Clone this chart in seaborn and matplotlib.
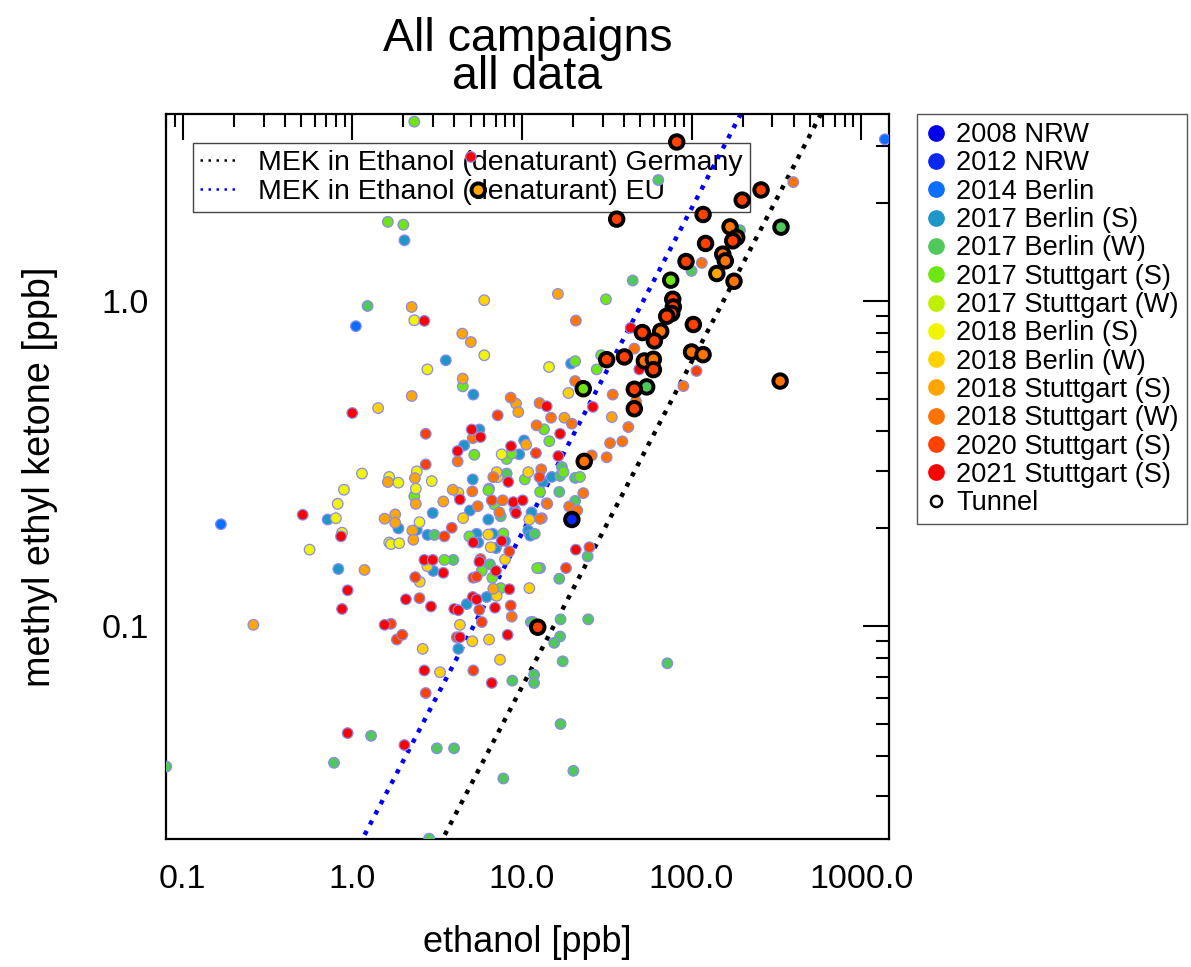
import numpy as np
import pandas as pd
import matplotlib
matplotlib.use("Agg")
import matplotlib.pyplot as plt
import seaborn as sns
from matplotlib.lines import Line2D
from matplotlib.ticker import FixedLocator, NullFormatter, LogLocator

# ---------------- data ----------------
campaigns = ["2008 NRW", "2012 NRW", "2014 Berlin", "2017 Berlin (S)", "2017 Berlin (W)",
             "2017 Stuttgart (S)", "2017 Stuttgart (W)", "2018 Berlin (S)", "2018 Berlin (W)",
             "2018 Stuttgart (S)", "2018 Stuttgart (W)", "2020 Stuttgart (S)", "2021 Stuttgart (S)"]
colors = ["#0000eb", "#0a28f0", "#0a6eff", "#1e96c8", "#50c85a", "#6ee614", "#bef000",
          "#f0f500", "#ffd200", "#ffa500", "#ff7300", "#ff4100", "#ff0000"]

eth_2008_nrw = []
mek_2008_nrw = []
eth_2012_nrw = []
mek_2012_nrw = []
eth_2014_berlin = [0.168, 1.05, 1380]
mek_2014_berlin = [0.206, 0.838, 3.15]
eth_2017_berlin_s = [2.03, 3.56, 5.17, 5.61, 4.56, 5.13, 9.65, 10.3, 13.3, 15.0, 19.5, 0.716, 0.827,
                     1.87, 2.40, 2.78, 2.98, 3.0, 4.22, 4.94, 5.41, 5.53, 6.34, 6.73, 7.95, 7.03,
                     9.1, 11.4, 10.9, 11.2, 6.2, 4.73]
mek_2017_berlin_s = [1.54, 0.658, 0.516, 0.403, 0.36, 0.283, 0.338, 0.373, 0.278, 0.288, 0.643, 0.213,
                     0.150, 0.20, 0.198, 0.191, 0.223, 0.148, 0.0852, 0.227, 0.1925, 0.181, 0.213,
                     0.1925, 0.183, 0.174, 0.228, 0.224, 0.197, 0.19, 0.123, 0.117]
eth_2017_berlin_w = [1.23, 63.7, 193, 100, 45, 17.2, 16.8, 20.6, 16.6, 20.6, 8.13, 24.4, 16.6, 12.8,
                     11.3, 11.6, 16.9, 24.6, 16.8, 15.5, 17.4, 72, 8.78, 11.8, 11.8, 16.9, 20.1,
                     3.94, 3.05, 6.48, 7.5, 11.9, 1.29, 3.15, 3.98, 0.78, 0.08, 7.77, 2.84, 6.4]
mek_2017_berlin_w = [0.967, 2.36, 1.654, 1.24, 1.158, 0.309, 0.29, 0.286, 0.259, 0.243, 0.295, 0.164,
                     0.14, 0.151, 0.103, 0.103, 0.105, 0.105, 0.093, 0.0889, 0.078, 0.0769, 0.068,
                     0.0709, 0.0669, 0.050, 0.0359, 0.160, 0.191, 0.155, 0.218, 0.1925, 0.046,
                     0.0421, 0.0421, 0.038, 0.037, 0.034, 0.0222, 0.265]
eth_2017_stuttgart_s = [2.32, 1.62, 2.0, 31.3, 29.3, 20.6, 27.6, 4.48, 13.5, 14.5, 17.6, 22.0, 12.8,
                        5.24, 8.13, 8.71, 10.4, 12.3, 7.5, 2.32, 4.9, 6.88, 7.77, 5.8, 6.69, 3.49, 6.34]
mek_2017_stuttgart_s = [3.57, 1.755, 1.72, 1.014, 0.682, 0.654, 0.617, 0.547, 0.4035, 0.371, 0.298,
                        0.288, 0.259, 0.337, 0.327, 0.34, 0.283, 0.151, 0.131, 0.251, 0.189, 0.237,
                        0.193, 0.148, 0.141, 0.16, 0.262]
eth_2017_stuttgart_w = []
mek_2017_stuttgart_w = []
eth_2018_berlin_s = [2.32, 2.77, 6.0, 14.45, 1.14, 1.65, 1.87, 2.40, 2.94, 0.893, 2.37, 0.82, 0.80,
                     0.87, 0.56, 2.49, 1.65, 1.69, 1.89, 7.6]
mek_2018_berlin_s = [0.874, 0.617, 0.682, 0.6275, 0.295, 0.288, 0.2765, 0.2995, 0.2796, 0.263, 0.265,
                     0.238, 0.215, 0.194, 0.172, 0.209, 0.181, 0.179, 0.180, 0.338]
eth_2018_berlin_w = [6.0, 1.42, 18.8, 4.22, 7.2, 10.9, 7.1, 11.06, 7.1, 6.4, 5.1, 7.43, 4.31, 2.6,
                     3.29, 2.5, 2.77, 4.5, 6.55, 7.95, 6.34, 11.06]
mek_2018_berlin_w = [1.007, 0.469, 0.522, 0.2575, 0.2876, 0.298, 0.298, 0.131, 0.124, 0.091, 0.0899,
                     0.0789, 0.101, 0.0852, 0.0722, 0.137, 0.153, 0.2151, 0.175, 0.1605, 0.1915, 0.213]
eth_2018_stuttgart_s = [2.24, 4.45, 5.0, 16.3, 2.24, 4.48, 9.23, 9.52, 17.8, 33.9, 10.6, 1.62, 2.34,
                        3.91, 3.44, 1.55, 1.79, 1.79, 2.26, 2.29, 1.18, 0.261, 2.37, 6.78]
mek_2018_stuttgart_s = [0.96, 0.795, 0.749, 1.053, 0.511, 0.578, 0.484, 0.456, 0.438, 0.44, 0.362,
                        0.2777, 0.2856, 0.263, 0.242, 0.2142, 0.2208, 0.2082, 0.197, 0.1845, 0.149,
                        0.101, 0.238, 0.1304]
eth_2018_stuttgart_w = [398, 115, 20.8, 46, 89.5, 20.6, 34.3, 12.7, 14.85, 19.7, 42.4, 47.1, 33.1,
                        39.1, 31.6, 25.8, 23.0, 19.0, 21.2, 14.0, 13.1, 8.59, 12.2, 5.13, 4.18, 13.0,
                        6.78, 5.1, 5.49, 7.7, 7.36, 12.8, 14.1, 8.71, 348]
mek_2018_stuttgart_w = [2.326, 1.312, 0.872, 0.715, 0.548, 0.568, 0.516, 0.486, 0.438, 0.42, 0.41,
                        0.492, 0.366, 0.3705, 0.331, 0.3355, 0.2568, 0.2336, 0.2271, 0.239, 0.215,
                        0.505, 0.415, 0.379, 0.3215, 0.304, 0.2876, 0.26, 0.234, 0.244, 0.224, 0.214,
                        0.238, 0.107, 1.714]
eth_2020_stuttgart_s = [107, 7.2, 2.71, 2.71, 12.1, 12.7, 3.49, 3.86, 6.64, 8.43, 5.7, 5.17, 5.41,
                        18.2, 25.0, 2.35, 2.49, 1.69, 1.83, 1.97, 4.13, 5.17, 2.71, 5.8, 5.61, 8.59]
mek_2020_stuttgart_s = [0.61, 0.4455, 0.391, 0.3147, 0.341, 0.2876, 0.189, 0.2009, 0.244, 0.17, 0.161,
                        0.141, 0.142, 0.151, 0.175, 0.1416, 0.122, 0.1017, 0.091, 0.0941, 0.0925,
                        0.0731, 0.0623, 0.103, 0.1123, 0.1158]
eth_2021_stuttgart_s = [5.0, 2.66, 43.8, 49.2, 26.2, 14.0, 16.8, 16.4, 1.0, 4.18, 5.06, 5.7, 8.63,
                        8.31, 4.31, 0.51, 0.858, 0.939, 0.87, 2.66, 2.98, 3.44, 2.07, 2.91, 3.99, 4.22,
                        1.55, 2.66, 8.9, 9.23, 10.1, 5.17, 7.6, 5.61, 7.03, 5.13, 5.41, 6.94, 8.43,
                        8.24, 6.64, 4.31, 0.939, 2.03, 20.8]
mek_2021_stuttgart_s = [2.78, 0.87, 0.828, 0.617, 0.473, 0.475, 0.391, 0.334, 0.453, 0.346, 0.403,
                        0.382, 0.358, 0.278, 0.2455, 0.2203, 0.189, 0.129, 0.113, 0.16, 0.16, 0.146,
                        0.121, 0.115, 0.113, 0.112, 0.101, 0.0731, 0.241, 0.2228, 0.244, 0.181, 0.183,
                        0.158, 0.148, 0.123, 0.121, 0.114, 0.13, 0.0941, 0.0669, 0.0925, 0.0469,
                        0.0431, 0.172]

tunnel_eth = [19.7, 54.4, 337, 75.4, 23.0, 5.53, 141,
              168.7, 184.7, 152.8, 158.2, 178, 65.8, 100, 117, 333, 52.7, 59.6, 23.3,
              81.8, 36.2, 117, 199, 257, 175, 121, 92.8, 77.5, 78.1, 76.4, 71.4, 102.5, 51.3,
              60.4, 31.6, 40.2, 59.6, 46, 46, 12.4]
tunnel_mek = [0.213, 0.545, 1.69, 1.161, 0.538, 2.197, 1.217,
              1.694, 1.571, 1.396, 1.331, 1.152, 0.808, 0.698, 0.685, 0.568, 0.655, 0.663, 0.3215,
              3.09, 1.789, 1.849, 2.047, 2.2, 1.534, 1.506, 1.325, 1.014, 0.96, 0.917, 0.899,
              0.848, 0.801, 0.755, 0.661, 0.674, 0.616, 0.536, 0.467, 0.0993]
tunnel_campaign = (["2012 NRW"] + ["2017 Berlin (W)"] * 2 + ["2017 Stuttgart (S)"] * 2
                   + ["2018 Stuttgart (S)"] * 2 + ["2018 Stuttgart (W)"] * 12
                   + ["2020 Stuttgart (S)"] * 21)

ratio_germany = 0.0065   # MEK / ethanol, German denaturant
ratio_eu = 0.0193        # MEK / ethanol, EU denaturant
line_labels = ["MEK in Ethanol (denaturant) Germany", "MEK in Ethanol (denaturant) EU"]

x_ticks = [0.1, 1.0, 10.0, 100.0, 1000.0]
x_ticklabels = ["0.1", "1.0", "10.0", "100.0", "1000.0"]
y_ticks = [0.1, 1.0]
y_ticklabels = ["0.1", "1.0"]

# ---------------- frame ----------------
eth_lists = [eth_2008_nrw, eth_2012_nrw, eth_2014_berlin, eth_2017_berlin_s, eth_2017_berlin_w,
             eth_2017_stuttgart_s, eth_2017_stuttgart_w, eth_2018_berlin_s, eth_2018_berlin_w,
             eth_2018_stuttgart_s, eth_2018_stuttgart_w, eth_2020_stuttgart_s, eth_2021_stuttgart_s]
mek_lists = [mek_2008_nrw, mek_2012_nrw, mek_2014_berlin, mek_2017_berlin_s, mek_2017_berlin_w,
             mek_2017_stuttgart_s, mek_2017_stuttgart_w, mek_2018_berlin_s, mek_2018_berlin_w,
             mek_2018_stuttgart_s, mek_2018_stuttgart_w, mek_2020_stuttgart_s, mek_2021_stuttgart_s]
frames = []
for name, e, m in zip(campaigns, eth_lists, mek_lists):
    if len(e):
        frames.append(pd.DataFrame({"ethanol": e, "mek": m, "campaign": name}))
df = pd.concat(frames, ignore_index=True)
df_tunnel = pd.DataFrame({"ethanol": tunnel_eth, "mek": tunnel_mek, "campaign": tunnel_campaign})
palette = dict(zip(campaigns, colors))

# ---------------- plot ----------------
sns.set_theme(style="white")
plt.rcParams["font.family"] = ["Liberation Sans", "DejaVu Sans"]
plt.rcParams["text.color"] = "black"
plt.rcParams["axes.labelcolor"] = "black"
plt.rcParams["xtick.color"] = "black"
plt.rcParams["ytick.color"] = "black"

W, H = 1191, 967
fig = plt.figure(figsize=(W / 100, H / 100), dpi=100)
ax_l, ax_r, ax_t, ax_b = 165.7, 889.0, 114.3, 839.3
ax = fig.add_axes([ax_l / W, 1 - ax_b / H, (ax_r - ax_l) / W, (ax_b - ax_t) / H])
ax.set_xscale("log")
ax.set_yscale("log")

line_x = np.logspace(-2, 4, 60)
sns.lineplot(x=line_x, y=ratio_germany * line_x, color="black", linewidth=3.2,
             linestyle=(0, (1, 1.6)), ax=ax, zorder=2)
sns.lineplot(x=line_x, y=ratio_eu * line_x, color="#0000ff", linewidth=3.2,
             linestyle=(0, (1, 1.6)), ax=ax, zorder=2)

sns.scatterplot(data=df, x="ethanol", y="mek", hue="campaign", hue_order=campaigns,
                palette=palette, s=58, edgecolor="#8a8af0", linewidth=0.9, legend=False,
                ax=ax, zorder=3)
sns.scatterplot(data=df_tunnel, x="ethanol", y="mek", hue="campaign", hue_order=campaigns,
                palette=palette, s=95, edgecolor="black", linewidth=2.8, legend=False,
                ax=ax, zorder=4)

ax.set_xlim(0.0794, 1460)
ax.set_ylim(0.0221, 3.76)
ax.set_xlabel("")
ax.set_ylabel("")

ax.xaxis.set_major_locator(FixedLocator(x_ticks))
ax.xaxis.set_ticklabels(x_ticklabels)
ax.xaxis.set_minor_locator(LogLocator(base=10, subs=np.arange(2, 10)))
ax.xaxis.set_minor_formatter(NullFormatter())
ax.yaxis.set_major_locator(FixedLocator(y_ticks))
ax.yaxis.set_ticklabels(y_ticklabels)
ax.yaxis.set_minor_locator(LogLocator(base=10, subs=np.arange(2, 10)))
ax.yaxis.set_minor_formatter(NullFormatter())

ax.tick_params(which="both", direction="in", top=True, right=True, colors="black",
               labelcolor="black", width=1.5, labelsize=24.5)
ax.tick_params(which="major", length=19)
ax.tick_params(which="minor", length=9.5)
ax.tick_params(axis="x", which="major", pad=18)
ax.tick_params(axis="y", which="major", pad=12)
for sp in ax.spines.values():
    sp.set_linewidth(1.6)
    sp.set_color("black")

# inner legend
h_lines = [Line2D([], [], color="black", linewidth=1.8, linestyle=(0, (1, 2.2))),
           Line2D([], [], color="#0000ff", linewidth=1.8, linestyle=(0, (1, 2.2)))]
leg1 = ax.legend(h_lines, line_labels, loc="upper left",
                 bbox_to_anchor=(192.7 / W, 1 - 143.3 / H), bbox_transform=fig.transFigure,
                 fontsize=20.5, frameon=True, fancybox=False, edgecolor="#444444",
                 framealpha=1, borderpad=0.25, labelspacing=0.1, handlelength=1.3,
                 handletextpad=0.75, borderaxespad=0)
leg1.get_frame().set_linewidth(1.0)
leg1.set_zorder(1)

# outer legend
h_pts = [Line2D([], [], marker="o", linestyle="none", markersize=11, markerfacecolor=c,
                markeredgecolor=c) for c in colors]
h_pts.append(Line2D([], [], marker="o", linestyle="none", markersize=8, markerfacecolor="none",
                    markeredgecolor="black", markeredgewidth=1.8))
leg2 = fig.legend(h_pts, campaigns + ["Tunnel"], loc="upper left",
                  bbox_to_anchor=(917 / W, 1 - 114 / H), fontsize=19.6, frameon=True,
                  fancybox=False, edgecolor="#555555", framealpha=1, borderpad=0.3,
                  labelspacing=0.085, handlelength=0.8, handletextpad=0.35, borderaxespad=0)
leg2.get_frame().set_linewidth(1.0)

# title (one two-line text) and axis labels
cx = (ax_l + ax_r) / 2 / W
fig.text(cx, 1 - 17 / H, "All campaigns\nall data", ha="center", va="top",
         multialignment="center", linespacing=0.83, fontsize=33.5)
fig.text(cx, 1 - 943 / H, "ethanol [ppb]", ha="center", va="center", fontsize=26)
fig.text(40 / W, 1 - 477 / H, "methyl ethyl ketone [ppb]", ha="center", va="center",
         rotation=90, fontsize=27.2)

fig.savefig("out.png", dpi=100)
